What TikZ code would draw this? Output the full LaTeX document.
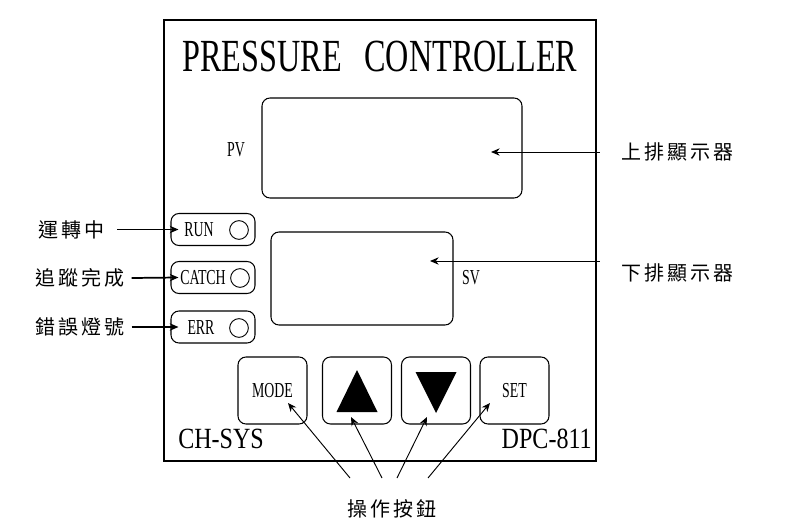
\documentclass[tikz,border=0pt]{standalone}
\usepackage{fontspec}
\setmainfont{Liberation Serif}[FakeStretch=0.65]
\newfontfamily\titlefont{Liberation Serif}[FakeStretch=0.70]
\newfontfamily\modelfont{Liberation Serif}[FakeStretch=0.82]
\newfontfamily\cjkfont{Noto Sans CJK TC}[LetterSpace=15]
\usetikzlibrary{arrows.meta, positioning, calc}
\usepackage{xcolor}
\definecolor{cInk}{HTML}{000000}
\definecolor{cPaper}{HTML}{FFFFFF}
\tikzset{
  panel/.style={
    draw=cInk, rounded corners=6pt, line width=0.8pt,
    inner sep=0pt,
  },
  screenbox/.style={panel, minimum width=#1},
  ledbox/.style={panel, minimum width=63pt, minimum height=24pt},
  keybox/.style={panel, minimum width=51.75pt, minimum height=50.25pt,
    font=\fontsize{16pt}{16pt}\selectfont},
  lamp/.style={circle, draw=cInk, line width=0.7pt,
    minimum size=14pt, inner sep=0pt},
  ledtext/.style={font=\fontsize{16pt}{16pt}\selectfont, inner sep=0pt},
  tag/.style={font=\cjkfont\fontsize{15pt}{15pt}\selectfont,
    text=cInk, inner sep=0pt},
  arw/.style={-{Stealth[length=6.5pt, width=5.5pt]}, line width=#1, color=cInk},
  arw/.default=0.7pt,
}

\begin{document}
\begin{tikzpicture}[x=0.75pt, y=-0.75pt]

  \fill[cPaper] (0,0) rectangle (794,528);
  \useasboundingbox (0,0) rectangle (794,528);

  % Front plate
  \draw[cInk, line width=0.9pt] (164,20) rectangle (596,461);
  \node[anchor=base, inner sep=0pt, font=\titlefont\fontsize{34.5pt}{34.5pt}\selectfont]
    (title) at (380,72) {PRESSURE\hspace{17pt}CONTROLLER};

  % Displays
  \node[screenbox=195pt, minimum height=75pt] (pv) at (392,148) {};
  \node[ledtext, anchor=base] (pvtxt) at (236,157) {PV};
  \node[screenbox=136.5pt, minimum height=69.75pt] (sv) at (362,278.5) {};
  \node[ledtext, anchor=base] (svtxt) at (471,285) {SV};

  % Status lamps
  \node[ledbox] (run) at (213,229.5) {};
  \node[ledtext] (runtxt) at (199,230) {RUN};
  \node[lamp] (runlamp) at (239,230) {};

  \node[ledbox] (catch) at (213,277.5) {};
  \node[ledtext] (catchtxt) at (203,278) {CATCH};
  \node[lamp] (catchlamp) at (240,278) {};

  \node[ledbox] (err) at (213,327) {};
  \node[ledtext] (errtxt) at (201,327.5) {ERR};
  \node[lamp] (errlamp) at (239,328) {};

  % Keys
  \node[keybox] (mode) at (272.5,390.5) {MODE};
  \node[keybox] (up) at (357,390.5) {};
  \node[keybox] (down) at (436,390.5) {};
  \node[keybox] (set) at (514.5,390.5) {SET};
  \fill[cInk] (up.center) ++(0,-20.5) -- ++(20.5,42) -- ++(-41,0) -- cycle;
  \fill[cInk] (down.center) ++(0,22.5) -- ++(20.5,-41) -- ++(-41,0) -- cycle;

  \node[anchor=base west, inner sep=0pt, font=\modelfont\fontsize{22pt}{22pt}\selectfont]
    (maker) at (178,448) {CH-SYS};
  \node[anchor=base east, inner sep=0pt, font=\modelfont\fontsize{22pt}{22pt}\selectfont]
    (model) at (592,448) {DPC-811};

  % Callouts
  \node[tag, anchor=east] (runtag) at (105,229.5) {運轉中};
  \node[tag, anchor=east] (catchtag) at (125,278) {追蹤完成};
  \node[tag, anchor=east] (errtag) at (125,327) {錯誤燈號};
  \draw[arw=1.3pt] ([xshift=9pt]runtag.east) -- ([xshift=6pt]run.west);
  \draw[arw=1.3pt] ([xshift=5pt]catchtag.east) -- ([xshift=6pt]catch.west);
  \draw[arw=1.3pt] ([xshift=5pt]errtag.east) -- ([xshift=6pt]err.west);

  \node[tag, anchor=west] (uptag) at (621,152) {上排顯示器};
  \node[tag, anchor=west] (downtag) at (621,273) {下排顯示器};
  \coordinate (pvtip) at (491,152);
  \coordinate (svtip) at (430,261);
  \draw[arw] ([xshift=-16pt]uptag.west) -- (pvtip);
  \draw[arw] ([xshift=-16pt]downtag.west |- svtip) -- (svtip);

  \node[tag] (keytag) at (392,509) {操作按鈕};
  \coordinate (k1) at (350,478);
  \coordinate (k2) at (382,478);
  \coordinate (k3) at (397,478);
  \coordinate (k4) at (428,478);
  \draw[arw] (k1) -- ($(mode.center)+(15.5,12.5)$);
  \draw[arw] (k2) -- ($(up.center)+(-6,26.5)$);
  \draw[arw] (k3) -- ($(down.center)+(-9,26.5)$);
  \draw[arw] (k4) -- ($(set.center)+(-24.5,12.5)$);

\end{tikzpicture}
\end{document}
